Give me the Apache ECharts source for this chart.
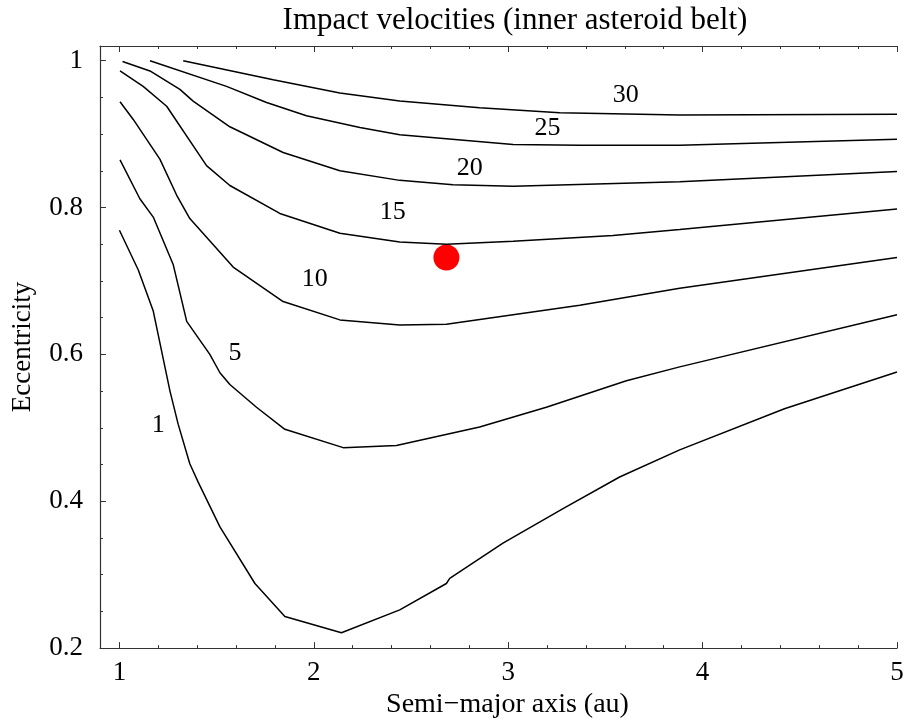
<!DOCTYPE html>
<html>
<head>
<meta charset="utf-8">
<script src="https://cdn.jsdelivr.net/npm/echarts@6/dist/echarts.min.js"></script>
<style>
  html, body { margin: 0; padding: 0; background: #fff; }
  #chart { width: 910px; height: 724px; }
</style>
</head>
<body>
<div id="chart"></div>
<script>
// Contour levels of impact velocity (km/s) and the polyline of each level,
// as [semi-major axis (au), eccentricity] pairs.
const levels = ['1', '5', '10', '15', '20', '25', '30'];

const contour1 = [
  [1.000, 0.769], [1.097, 0.715], [1.174, 0.659], [1.260, 0.550], [1.302, 0.505],
  [1.362, 0.451], [1.405, 0.426], [1.517, 0.365], [1.697, 0.288], [1.851, 0.243],
  [2.142, 0.221], [2.442, 0.252], [2.682, 0.288], [2.699, 0.295], [2.973, 0.343],
  [3.282, 0.390], [3.573, 0.433], [3.882, 0.470], [4.421, 0.526], [5.000, 0.576]
];
const contour5 = [
  [1.003, 0.865], [1.105, 0.812], [1.174, 0.787], [1.277, 0.722], [1.346, 0.645],
  [1.465, 0.600], [1.517, 0.575], [1.568, 0.559], [1.705, 0.528], [1.851, 0.498],
  [2.151, 0.473], [2.425, 0.476], [2.853, 0.501], [3.196, 0.528], [3.608, 0.564],
  [3.882, 0.583], [5.000, 0.654]
];
const contour10 = [
  [1.003, 0.944], [1.071, 0.920], [1.208, 0.866], [1.294, 0.817], [1.362, 0.785],
  [1.585, 0.719], [1.842, 0.672], [2.134, 0.647], [2.442, 0.640], [2.682, 0.641],
  [3.025, 0.654], [3.368, 0.667], [3.882, 0.690], [5.000, 0.732]
];
const contour15 = [
  [1.003, 0.986], [1.122, 0.965], [1.243, 0.938], [1.448, 0.857], [1.568, 0.830],
  [1.825, 0.792], [2.134, 0.765], [2.442, 0.753], [2.682, 0.750], [3.025, 0.754],
  [3.539, 0.762], [3.882, 0.770], [5.000, 0.798]
];
const contour20 = [
  [1.016, 0.999], [1.157, 0.986], [1.311, 0.961], [1.379, 0.945], [1.568, 0.910],
  [1.842, 0.875], [2.134, 0.850], [2.442, 0.837], [2.716, 0.831], [3.025, 0.829],
  [3.882, 0.835], [5.000, 0.849]
];
const contour25 = [
  [1.157, 1.000], [1.551, 0.965], [1.757, 0.943], [1.962, 0.925], [2.237, 0.909],
  [2.442, 0.899], [3.025, 0.886], [3.368, 0.885], [3.882, 0.885], [5.000, 0.893]
];
const contour30 = [
  [1.328, 1.000], [1.791, 0.974], [2.134, 0.956], [2.442, 0.945], [2.853, 0.936],
  [3.265, 0.929], [3.882, 0.926], [5.000, 0.927]
];

// Where each level's number is written
const levelLabelAt = [
  [1.200, 0.503], [1.594, 0.602], [2.005, 0.702], [2.406, 0.794],
  [2.802, 0.853], [3.202, 0.908], [3.604, 0.953]
];

// Highlighted object
const target = [2.682, 0.732];

// Tick values
const xMajorTicks = [1, 2, 3, 4, 5];
const xMinorTicks = [1, 1.2, 1.4, 1.6, 1.8, 2, 2.2, 2.4, 2.6, 2.8, 3, 3.2, 3.4, 3.6, 3.8,
                     4, 4.2, 4.4, 4.6, 4.8, 5];
const yMajorTicks = [0.2, 0.4, 0.6, 0.8, 1];
const yMinorTicks = [0.2, 0.25, 0.3, 0.35, 0.4, 0.45, 0.5, 0.55, 0.6, 0.65, 0.7, 0.75,
                     0.8, 0.85, 0.9, 0.95, 1];

const contours = [contour1, contour5, contour10, contour15, contour20, contour25, contour30];

const SERIF = "'Liberation Serif', 'DejaVu Serif', serif";
const X_MIN = 0.9, X_MAX = 5, Y_MIN = 0.2, Y_MAX = 1.02;

function xAxisOf(position, ticks, len, withLabels, withLine) {
  return {
    type: 'value', position: position, min: X_MIN, max: X_MAX,
    splitLine: { show: false },
    axisLine: { show: withLine, onZero: false, lineStyle: { color: '#333', width: 1.2 } },
    axisTick: { show: true, inside: true, length: len, customValues: ticks,
                lineStyle: { color: '#333', width: 1 } },
    axisLabel: withLabels
      ? { show: true, customValues: xMajorTicks, margin: 11, color: '#000',
          fontFamily: SERIF, fontSize: 27 }
      : { show: false }
  };
}
function yAxisOf(position, ticks, len, withLabels, withLine) {
  return {
    type: 'value', position: position, min: Y_MIN, max: Y_MAX,
    splitLine: { show: false },
    axisLine: { show: withLine, onZero: false, lineStyle: { color: '#333', width: 1.2 } },
    axisTick: { show: true, inside: true, length: len, customValues: ticks,
                lineStyle: { color: '#333', width: 1 } },
    axisLabel: withLabels
      ? { show: true, customValues: yMajorTicks, margin: 17, color: '#000',
          fontFamily: SERIF, fontSize: 27 }
      : { show: false }
  };
}

const xAxes = [
  xAxisOf('bottom', xMajorTicks, 6, true, true),
  xAxisOf('bottom', xMinorTicks, 3, false, false),
  xAxisOf('top', xMajorTicks, 6, false, true),
  xAxisOf('top', xMinorTicks, 3, false, false)
];
Object.assign(xAxes[0], {
  name: 'Semi\u2212major axis (au)', nameLocation: 'middle', nameGap: 41,
  nameTextStyle: { color: '#000', fontFamily: SERIF, fontSize: 28, padding: [0, 0, 0, 18] }
});

const yAxes = [
  yAxisOf('left', yMajorTicks, 6, true, true),
  yAxisOf('left', yMinorTicks, 3, false, false)
];
Object.assign(yAxes[0], {
  name: 'Eccentricity', nameLocation: 'middle', nameGap: 64, nameRotate: 90,
  nameTextStyle: { color: '#000', fontFamily: SERIF, fontSize: 27 }
});

const series = contours.map((pts, i) => ({
  type: 'line', name: levels[i], data: pts,
  xAxisIndex: 0, yAxisIndex: 0,
  showSymbol: false, symbol: 'none', smooth: false, silent: true,
  lineStyle: { color: '#000', width: 1.5 }
}));

// Level numbers written next to their curves
series.push({
  type: 'scatter', xAxisIndex: 0, yAxisIndex: 0,
  symbolSize: 0, silent: true,
  itemStyle: { opacity: 1 },
  data: levelLabelAt.map((p, i) => ({ value: p, name: levels[i] })),
  label: { show: true, position: 'inside', formatter: '{b}', color: '#000',
           opacity: 1, fontFamily: SERIF, fontSize: 26 }
});

series.push({
  type: 'scatter', xAxisIndex: 0, yAxisIndex: 0, silent: true,
  symbol: 'circle', symbolSize: 26,
  itemStyle: { color: '#ff0000', opacity: 1 },
  data: [target]
});

const chart = echarts.init(document.getElementById('chart'), null, { renderer: 'canvas' });
chart.setOption({
  animation: false,
  backgroundColor: '#fff',
  title: {
    text: 'Impact velocities (inner asteroid belt)',
    left: 510, top: 0, textAlign: 'center',
    textStyle: { color: '#000', fontFamily: SERIF, fontSize: 31, fontWeight: 'normal' }
  },
  grid: { left: 100, right: 13, top: 46, bottom: 72, containLabel: false },
  xAxis: xAxes,
  yAxis: yAxes,
  series: series
});
</script>
</body>
</html>
